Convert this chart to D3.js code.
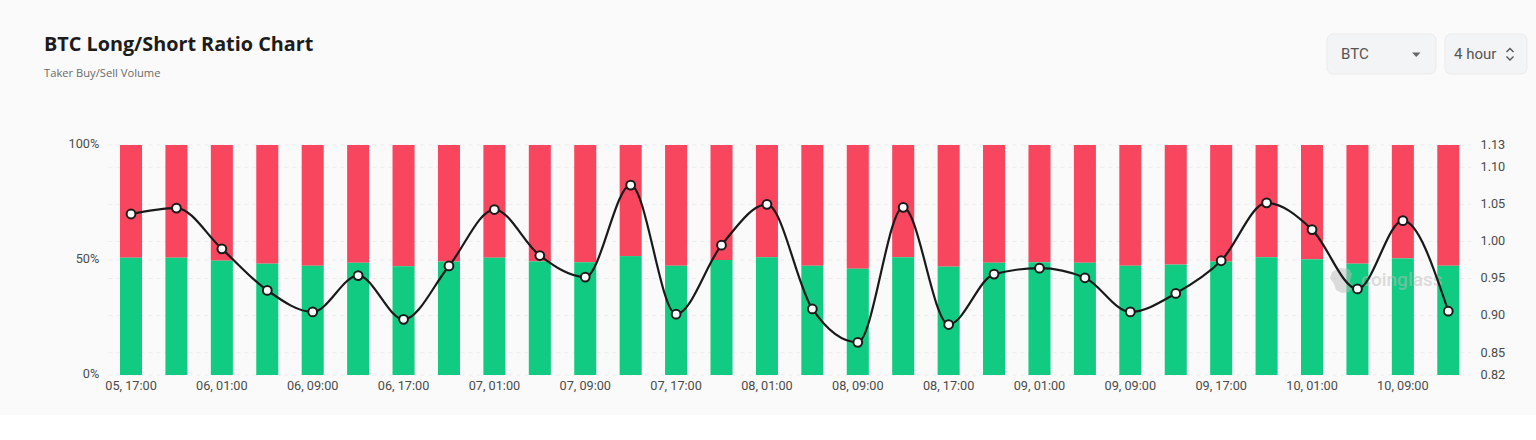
<!DOCTYPE html>
<html>
<head>
<meta charset="utf-8">
<script src="https://cdn.jsdelivr.net/npm/d3@7"></script>
<style>
  html, body { margin: 0; padding: 0; background: #fff; }
  svg { display: block; }
  .tick text { font-family: Roboto, sans-serif; font-size: 12.7px; fill: #4a4a4a; }
  .domain { display: none; }
</style>
</head>
<body>
<script>
const categories = [
  "05, 17:00", "05, 21:00", "06, 01:00", "06, 05:00", "06, 09:00", "06, 13:00",
  "06, 17:00", "06, 21:00", "07, 01:00", "07, 05:00", "07, 09:00", "07, 13:00",
  "07, 17:00", "07, 21:00", "08, 01:00", "08, 05:00", "08, 09:00", "08, 13:00",
  "08, 17:00", "08, 21:00", "09, 01:00", "09, 05:00", "09, 09:00", "09, 13:00",
  "09, 17:00", "09, 21:00", "10, 01:00", "10, 05:00", "10, 09:00", "10, 13:00"
];
const longPct = [
  51.0, 51.0, 49.7, 48.4, 47.5, 48.8, 47.3, 49.3, 51.0, 49.4,
  49.0, 51.7, 47.5, 50.0, 51.2, 47.5, 46.2, 51.2, 47.1, 48.8,
  49.0, 48.8, 47.5, 48.0, 49.3, 51.2, 50.3, 48.4, 50.7, 47.5
];
const ratio = [
  1.037, 1.045, 0.990, 0.934, 0.905, 0.954, 0.895, 0.967, 1.043, 0.981,
  0.952, 1.076, 0.902, 0.995, 1.050, 0.909, 0.864, 1.046, 0.888, 0.956,
  0.964, 0.951, 0.905, 0.930, 0.974, 1.052, 1.016, 0.936, 1.028, 0.906
];
const pctTicks = [0, 50, 100];
const ratioTicks = [0.82, 0.85, 0.90, 0.95, 1.00, 1.05, 1.10, 1.13];

const W = 1536, H = 440;
const plotL = 108.3, plotR = 1471, plotT = 145, plotB = 375;

const svg = d3.select("body").append("svg").attr("width", W).attr("height", H);

// page background stops above the bottom of the shot
svg.append("rect").attr("width", W).attr("height", 415).attr("fill", "#fafafa");

const x = d3.scaleBand().domain(categories).range([plotL, plotR])
  .paddingInner(0.515).paddingOuter(0.2575);
const yPct = d3.scaleLinear().domain([0, 100]).range([plotB, plotT]);
const yRatio = d3.scaleLinear().domain([0.82, 1.13]).range([plotB, plotT]);

// title
svg.append("text").attr("x", 44).attr("y", 51)
  .attr("font-family", "'Open Sans', sans-serif").attr("font-weight", 700)
  .attr("font-size", 19.8).attr("fill", "#1c1c1c").text("BTC Long/Short Ratio Chart");
svg.append("text").attr("x", 44).attr("y", 77)
  .attr("font-family", "'Open Sans', sans-serif")
  .attr("font-size", 11.2).attr("fill", "#6b6b6b").text("Taker Buy/Sell Volume");

// the two selects
const controls = svg.append("g");
controls.append("rect").attr("x", 1327).attr("y", 34).attr("width", 109).attr("height", 40)
  .attr("rx", 6).attr("fill", "#f3f4f5").attr("stroke", "#ebebeb");
controls.append("rect").attr("x", 1445).attr("y", 34).attr("width", 82).attr("height", 40)
  .attr("rx", 6).attr("fill", "#f3f4f5").attr("stroke", "#ebebeb");
controls.append("text").attr("x", 1341).attr("y", 59)
  .attr("font-family", "Roboto, sans-serif").attr("font-size", 15).attr("fill", "#555").text("BTC");
controls.append("text").attr("x", 1454).attr("y", 59)
  .attr("font-family", "Roboto, sans-serif").attr("font-size", 15).attr("fill", "#555").text("4 hour");
controls.append("path").attr("d", "M1412,52.5h8.5l-4.25,4.5z").attr("fill", "#666");
controls.append("path").attr("d", "M1506.5,52l3.5,-3.5l3.5,3.5M1506.5,56.5l3.5,3.5l3.5,-3.5")
  .attr("fill", "none").attr("stroke", "#555").attr("stroke-width", 1.4);

// grid lines come from the ratio axis, plus the 50% line
const grid = svg.append("g").attr("stroke", "#ececec").attr("stroke-dasharray", "4 4");
grid.selectAll("line.r").data(ratioTicks).join("line").attr("class", "r")
  .attr("x1", plotL).attr("x2", plotR)
  .attr("y1", d => yRatio(d)).attr("y2", d => yRatio(d));
grid.append("line").attr("x1", plotL).attr("x2", plotR)
  .attr("y1", yPct(50)).attr("y2", yPct(50));

// stacked bars
svg.append("g").attr("fill", "#f9465f").selectAll("rect")
  .data(categories).join("rect")
  .attr("x", d => x(d)).attr("width", x.bandwidth())
  .attr("y", yPct(100))
  .attr("height", (d, i) => yPct(longPct[i]) - yPct(100));
svg.append("g").attr("fill", "#10cb81").selectAll("rect")
  .data(categories).join("rect")
  .attr("x", d => x(d)).attr("width", x.bandwidth())
  .attr("y", (d, i) => yPct(longPct[i]))
  .attr("height", (d, i) => yPct(0) - yPct(longPct[i]));

// axes
svg.append("g").attr("transform", `translate(${plotL - 9},-1.2)`)
  .call(d3.axisLeft(yPct).tickValues(pctTicks).tickFormat(d => d + "%").tickSize(0).tickPadding(0));
svg.append("g").attr("transform", `translate(1480.5,-0.8)`)
  .call(d3.axisRight(yRatio).tickValues(ratioTicks).tickFormat(d3.format(".2f")).tickSize(0).tickPadding(0));
svg.append("g").attr("transform", `translate(0,${plotB + 5.5})`)
  .call(d3.axisBottom(x).tickValues(categories.filter((d, i) => i % 2 === 0)).tickSize(0).tickPadding(0));

// watermark
const mark = svg.append("g").attr("opacity", 0.5).attr("fill", "#bdbdbd");
mark.append("path").attr("d", "M1332,272l8,-4l9,1l3,5l-2,7l3,6l-4,5l-7,1l-6,-3l-2,-6l-4,-6z");
mark.append("text").attr("x", 1361).attr("y", 286)
  .attr("font-family", "Roboto, sans-serif").attr("font-size", 19).attr("font-weight", 500).text("coinglass");

// ratio line
const line = d3.line()
  .x(d => x(d) + x.bandwidth() / 2)
  .y((d, i) => yRatio(ratio[i]))
  .curve(d3.curveMonotoneX);
svg.append("path").datum(categories).attr("d", line)
  .attr("fill", "none").attr("stroke", "#1a1a1a").attr("stroke-width", 2.2);
svg.append("g").selectAll("circle").data(categories).join("circle")
  .attr("cx", d => x(d) + x.bandwidth() / 2)
  .attr("cy", (d, i) => yRatio(ratio[i]))
  .attr("r", 4.4)
  .attr("fill", "#fff").attr("stroke", "#1a1a1a").attr("stroke-width", 2);
</script>
</body>
</html>
